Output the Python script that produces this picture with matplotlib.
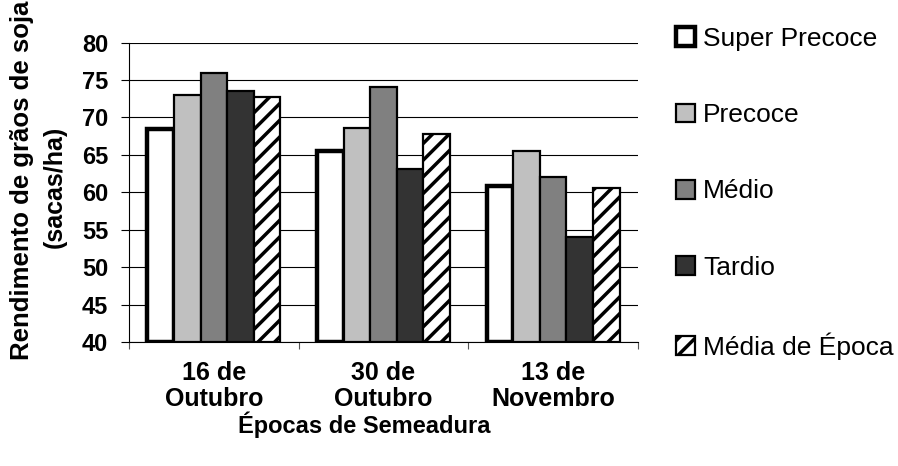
#!/usr/bin/env python3
# -*- coding: utf-8 -*-
"""
Rendimento de soja por grupo de maturação e época de semeadura
"""
import numpy as np
import matplotlib
matplotlib.use('Agg')
import matplotlib.pyplot as plt

plt.rcParams['font.family'] = ['Liberation Sans', 'DejaVu Sans']
plt.rcParams['hatch.linewidth'] = 2.5
plt.rcParams['hatch.color'] = '#2a2a2a'

epocas = ['16 de\nOutubro', '30 de\nOutubro', '13 de\nNovembro']
grupos = ['Super Precoce', 'Precoce', 'Médio', 'Tardio', 'Média de Época']

super_precoce = [68.5, 65.5, 60.9]
precoce = [73.0, 68.6, 65.5]
medio = [75.9, 74.0, 62.0]
tardio = [73.5, 63.1, 54.0]
media_epoca = [72.7, 67.8, 60.6]

series = [super_precoce, precoce, medio, tardio, media_epoca]
cores = ['white', '#c0c0c0', '#808080', '#333333', 'white']
hachuras = [None, None, None, None, '//']
bordas = [3.2, 1.6, 1.6, 1.6, 1.6]

fig = plt.figure(figsize=(8.98, 4.66), dpi=100)
ax = fig.add_axes([129/898, 1-342/466, 509/898, 299.5/466])

x = np.arange(len(epocas))
w = 0.157
for i, (vals, cor, hatch, lw, nome) in enumerate(zip(series, cores, hachuras, bordas, grupos)):
    ax.bar(x + (i - 2)*w, np.array(vals) - 40, w, bottom=40, color=cor,
           edgecolor='black', linewidth=lw, hatch=hatch, label=nome, zorder=3)

ax.set_xlim(-0.5, 2.5)
ax.set_ylim(40, 80)
ax.set_yticks(np.arange(40, 81, 5))
ax.yaxis.grid(True, color='black', linewidth=0.8, zorder=0)
ax.set_axisbelow(True)

# category labels in the middle, ticks at the boundaries
ax.set_xticks(x)
ax.set_xticklabels(epocas, fontsize=18, fontweight='bold', linespacing=1.1)
ax.tick_params(axis='x', which='major', length=0, pad=14)
ax.set_xticks([-0.5, 0.5, 1.5, 2.5], minor=True)
ax.tick_params(axis='x', which='minor', length=5, width=0.8, color='#555555')
ax.tick_params(axis='y', length=6, width=0.8, pad=9, labelsize=17)
for t in ax.get_yticklabels():
    t.set_fontweight('bold')

for s in ['top', 'right']:
    ax.spines[s].set_visible(False)
ax.spines['left'].set_linewidth(0.8)
ax.spines['bottom'].set_linewidth(0.8)

fig.text(22/898, 1-180/466, 'Rendimento de grãos de soja', rotation=90,
         ha='center', va='center', fontsize=18.5, fontweight='bold')
fig.text(55/898, 1-187/466, '(sacas/ha)', rotation=90,
         ha='center', va='center', fontsize=18, fontweight='bold')
fig.text(364/898, 1-425/466, 'Épocas de Semeadura', ha='center', va='center',
         fontsize=17, fontweight='bold')

fig.legend(loc='upper left', bbox_to_anchor=(676/898, 1-27/466), frameon=False,
           fontsize=19, labelspacing=1.98, handlelength=0.72, handleheight=0.72,
           handletextpad=0.3, borderaxespad=0, borderpad=0)

fig.savefig('out.png', dpi=100)
